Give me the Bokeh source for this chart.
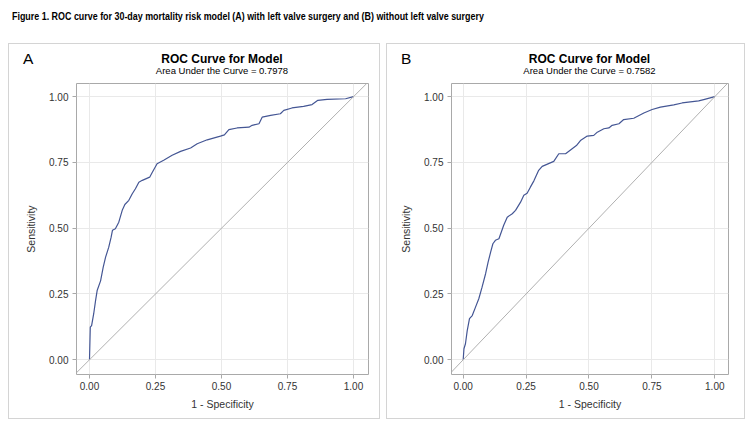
from bokeh.plotting import figure
from bokeh.models import Slope, FixedTicker, NumeralTickFormatter, Div, Range1d
from bokeh.layouts import column, row
from bokeh.embed import file_html
from bokeh.resources import INLINE

# ---------------- data ----------------
fig_title = ("Figure 1. ROC curve for 30-day mortality risk model (A) with left valve "
             "surgery and (B) without left valve surgery")
panel_letters = ["A", "B"]
panel_title = "ROC Curve for Model"
auc_values = [0.7978, 0.7582]
x_label = "1 - Specificity"
y_label = "Sensitivity"
tick_values = [0.0, 0.25, 0.5, 0.75, 1.0]

fpr_a = [0, 0.003, 0.008, 0.016, 0.023, 0.029, 0.042, 0.052, 0.061, 0.073, 0.082, 0.087,
         0.098, 0.111, 0.124, 0.134, 0.149, 0.162, 0.174, 0.187, 0.200, 0.228, 0.237, 0.256,
         0.281, 0.313, 0.345, 0.383, 0.408, 0.446, 0.496, 0.511, 0.528, 0.559, 0.604, 0.616,
         0.642, 0.654, 0.686, 0.723, 0.736, 0.767, 0.811, 0.843, 0.865, 0.900, 0.970, 1.0]
tpr_a = [0, 0.124, 0.13, 0.175, 0.225, 0.263, 0.30, 0.352, 0.39, 0.428, 0.466, 0.492,
         0.498, 0.523, 0.568, 0.59, 0.606, 0.631, 0.65, 0.675, 0.682, 0.694, 0.711, 0.745,
         0.758, 0.777, 0.792, 0.805, 0.821, 0.836, 0.85, 0.855, 0.875, 0.881, 0.884, 0.891,
         0.897, 0.922, 0.929, 0.935, 0.948, 0.957, 0.963, 0.970, 0.986, 0.99, 0.992, 1.0]

fpr_b = [0, 0.003, 0.009, 0.016, 0.025, 0.036, 0.049, 0.062, 0.075, 0.089, 0.099, 0.109,
         0.118, 0.128, 0.142, 0.161, 0.175, 0.195, 0.208, 0.228, 0.241, 0.254, 0.267, 0.281,
         0.300, 0.314, 0.360, 0.380, 0.407, 0.433, 0.450, 0.466, 0.493, 0.519, 0.533, 0.559,
         0.579, 0.592, 0.619, 0.638, 0.678, 0.718, 0.751, 0.784, 0.837, 0.870, 0.936, 0.956, 1.0]
tpr_b = [0, 0.042, 0.061, 0.111, 0.156, 0.168, 0.2, 0.232, 0.276, 0.327, 0.371, 0.409,
         0.441, 0.454, 0.46, 0.511, 0.542, 0.555, 0.568, 0.599, 0.625, 0.633, 0.656, 0.68,
         0.72, 0.735, 0.754, 0.783, 0.783, 0.802, 0.814, 0.833, 0.85, 0.853, 0.865, 0.878,
         0.881, 0.891, 0.897, 0.913, 0.918, 0.938, 0.951, 0.96, 0.969, 0.976, 0.984, 0.989, 1.0]

FONT = "Liberation Sans"
CSS_FONT = "'Liberation Sans', Arial, sans-serif"
CURVE = "#445694"
GRAY = "#a9a9a9"
PANEL_H = 376
HEADER_H = 34


def header_html(letter, auc, width, frame_left, frame_w):
    # baseline = top + 0.8465 * font-size when line-height == font-size
    def top(baseline, fs):
        return baseline - 0.8465 * fs
    return (
        f'<div style="position:relative;width:{width}px;height:{HEADER_H}px;'
        f'font-family:{CSS_FONT};color:black;">'
        f'<div style="position:absolute;left:15px;top:{top(21, 15.5):.2f}px;'
        f'font-size:15.5px;line-height:15.5px;">{letter}</div>'
        f'<div style="position:absolute;left:{frame_left}px;width:{frame_w}px;'
        f'top:{top(20, 12):.2f}px;text-align:center;font-size:12px;line-height:12px;'
        f'font-weight:bold;white-space:nowrap;">{panel_title}</div>'
        f'<div style="position:absolute;left:{frame_left}px;width:{frame_w}px;'
        f'top:{top(31, 9.5):.2f}px;text-align:center;font-size:9.5px;line-height:9.5px;'
        f'white-space:nowrap;">Area Under the Curve = {auc:.4f}</div>'
        '</div>'
    )


def make_panel(letter, fpr, tpr, auc, width, x_start, x_end, border_left, border_right):
    y_start, y_end = -0.056, 1.05
    fig_h = PANEL_H - HEADER_H
    p = figure(width=width, height=fig_h, output_backend="svg", toolbar_location=None,
               x_range=Range1d(x_start, x_end), y_range=Range1d(y_start, y_end),
               min_border_left=border_left, min_border_right=border_right,
               min_border_top=40 - HEADER_H, min_border_bottom=45,
               background_fill_color="white", border_fill_alpha=0)
    p.outline_line_color = GRAY
    p.outline_line_width = 1
    p.grid.grid_line_color = "#e9e9e9"
    p.grid.grid_line_width = 1

    for ax in (p.xaxis[0], p.yaxis[0]):
        ax.ticker = FixedTicker(ticks=tick_values)
        ax.formatter = NumeralTickFormatter(format="0.00")
        ax.axis_line_color = None
        ax.major_tick_line_color = GRAY
        ax.major_tick_out = 4
        ax.major_tick_in = 0
        ax.minor_tick_line_color = None
        ax.major_label_text_font = FONT
        ax.major_label_text_font_size = "10px"
        ax.major_label_text_color = "#333333"
        ax.axis_label_text_font = FONT
        ax.axis_label_text_font_size = "10.5px"
        ax.axis_label_text_font_style = "normal"
        ax.axis_label_text_color = "#333333"
    p.xaxis.axis_label = x_label
    p.yaxis.axis_label = y_label
    p.xaxis.major_label_standoff = 3
    p.yaxis.major_label_standoff = 4
    p.xaxis.axis_label_standoff = 5
    p.yaxis.axis_label_standoff = 9

    p.add_layout(Slope(gradient=1, y_intercept=0, line_color="#b0b0b0", line_width=1))
    p.line(fpr, tpr, line_color=CURVE, line_width=1.2)

    frame_w = width - border_left - border_right
    head = Div(text=header_html(letter, auc, width, border_left, frame_w),
               width=width, height=HEADER_H, margin=(0, 0, 0, 0))
    return column(head, p, spacing=0, width=width, height=PANEL_H,
                  styles={"outline": "1px solid #d4d4d4", "outline-offset": "-1px",
                          "background-color": "white"})


pa = make_panel(panel_letters[0], fpr_a, tpr_a, auc_values[0], 372, -0.0492, 1.0568, 68, 12)
pb = make_panel(panel_letters[1], fpr_b, tpr_b, auc_values[1], 359, -0.0465, 1.0545, 65, 17)

title_html = (
    f'<div style="padding-top:1.5px;padding-left:3.7px;white-space:nowrap;'
    f'font-family:{CSS_FONT};font-size:11px;line-height:11px;font-weight:bold;color:black;">'
    '<span style="display:inline-block;transform:scaleX(0.81);transform-origin:0 0;">'
    f'{fig_title}</span></div>'
)
div = Div(text=title_html, width=737, height=35, margin=(0, 0, 0, 0))

layout = column(div, row(pa, pb, spacing=6), spacing=0, margin=(8, 0, 0, 8))

with open("out.html", "w") as f:
    f.write(file_html(layout, INLINE))
